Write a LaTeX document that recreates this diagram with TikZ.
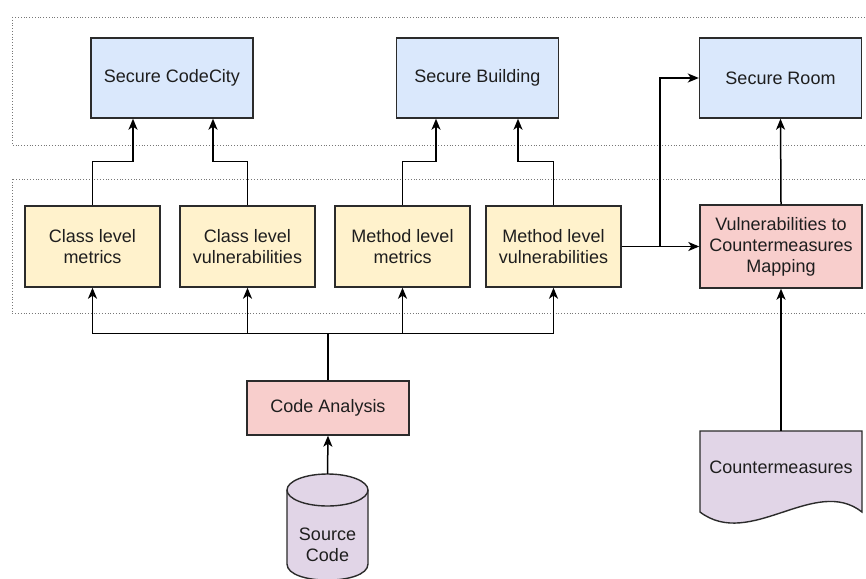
\documentclass[tikz,border=0pt]{standalone}
\usepackage{fontspec}
\setmainfont{Liberation Sans}
\usetikzlibrary{arrows.meta,calc}
\definecolor{bluef}{HTML}{DAE8FC}
\definecolor{yelf}{HTML}{FFF2CC}
\definecolor{pinkf}{HTML}{F8CECC}
\definecolor{purf}{HTML}{E1D5E7}
\definecolor{linec}{HTML}{2B2B2B}
\definecolor{txt}{HTML}{1E1E1E}
\definecolor{dotc}{HTML}{777777}
\begin{document}
\begin{tikzpicture}[x=1pt,y=-1pt,
  lbl/.style={align=center,inner sep=0pt,text=txt,font=\fontsize{18}{21}\selectfont},
  bx/.style={lbl,draw=linec,line width=1.4pt},
  blue/.style={bx,fill=bluef,minimum width=162pt,minimum height=80pt},
  ylw/.style={bx,fill=yelf,minimum width=135pt,minimum height=81pt},
  pnk/.style={bx,fill=pinkf},
  group/.style={draw=dotc,line width=0.8pt,dotted},
  arr/.style={draw=black,line width=1.5pt,-{Stealth[length=11pt,width=9pt,inset=3pt]}},
  ln/.style={draw=black,line width=1.5pt},
  shp/.style={draw=linec,line width=1.4pt,fill=purf}]
\useasboundingbox (0,0) rectangle (866,578);
\fill[white] (0,0) rectangle (866,578);
% groups
\draw[group] (12,17) rectangle (880,145);
\draw[group] (12,179) rectangle (880,313);
% top boxes
\node[blue] (scc) at (172,78) {Secure CodeCity};
\node[blue] (sb) at (477.5,78) {Secure Building};
\node[blue] (sr) at (780.5,78) {Secure Room};
% yellow boxes
\node[ylw] (cm) at (92.5,246.5) {Class level\\metrics};
\node[ylw] (cv) at (247.5,246.5) {Class level\\vulnerabilities};
\node[ylw] (mm) at (402.5,246.5) {Method level\\metrics};
\node[ylw] (mv) at (553.5,246.5) {Method level\\vulnerabilities};
\node[pnk,minimum width=162pt,minimum height=83pt] (map) at (781,246.5) {Vulnerabilities to\\Countermeasures\\Mapping};
\node[pnk,minimum width=162pt,minimum height=54pt] (ca) at (328,408) {Code Analysis};
% source code cylinder
\path[shp,draw=none] (287,490) -- (287,564) .. controls (287,585.5) and (368,585.5) .. (368,564) -- (368,490) -- cycle;
\draw[shp] (327.5,490) ellipse[x radius=40.5pt,y radius=16pt];
\draw[linec,line width=1.4pt] (287,490) -- (287,564) .. controls (287,585.5) and (368,585.5) .. (368,564) -- (368,490);
\node[lbl,minimum width=81pt,minimum height=142pt] (src) at (327.5,545) {Source\\Code};
% countermeasures document
\draw[shp] (700,431) -- (862,431) -- (862,512) .. controls (815,475) and (750,550) .. (700,512) -- cycle;
\node[lbl,minimum width=162pt,minimum height=72pt] (doc) at (781,467) {Countermeasures};
% connectors
\draw[arr] (cm.north) -- ++(0,-44) -| ([xshift=-39pt]scc.south);
\draw[arr] (cv.north) -- ++(0,-44) -| ([xshift=41pt]scc.south);
\draw[arr] (mm.north) -- ++(0,-44) -| ([xshift=-41.5pt]sb.south);
\draw[arr] (mv.north) -- ++(0,-44) -| ([xshift=40.5pt]sb.south);
\draw[arr] (map.north) -- (sr.south);
\draw[arr] (mv.east) -- (map.west);
\coordinate (br) at (660,246.5);
\draw[arr] (br) |- (sr.west);
\draw[ln] (ca.north) -- ++(0,-47) coordinate (bus);
\draw[arr] (bus) -| (cm.south);
\draw[arr] (bus) -| (cv.south);
\draw[arr] (bus) -| (mm.south);
\draw[arr] (bus) -| (mv.south);
\draw[arr] (src.north) -- (ca.south);
\draw[arr] (doc.north) -- (map.south);
\end{tikzpicture}
\end{document}
